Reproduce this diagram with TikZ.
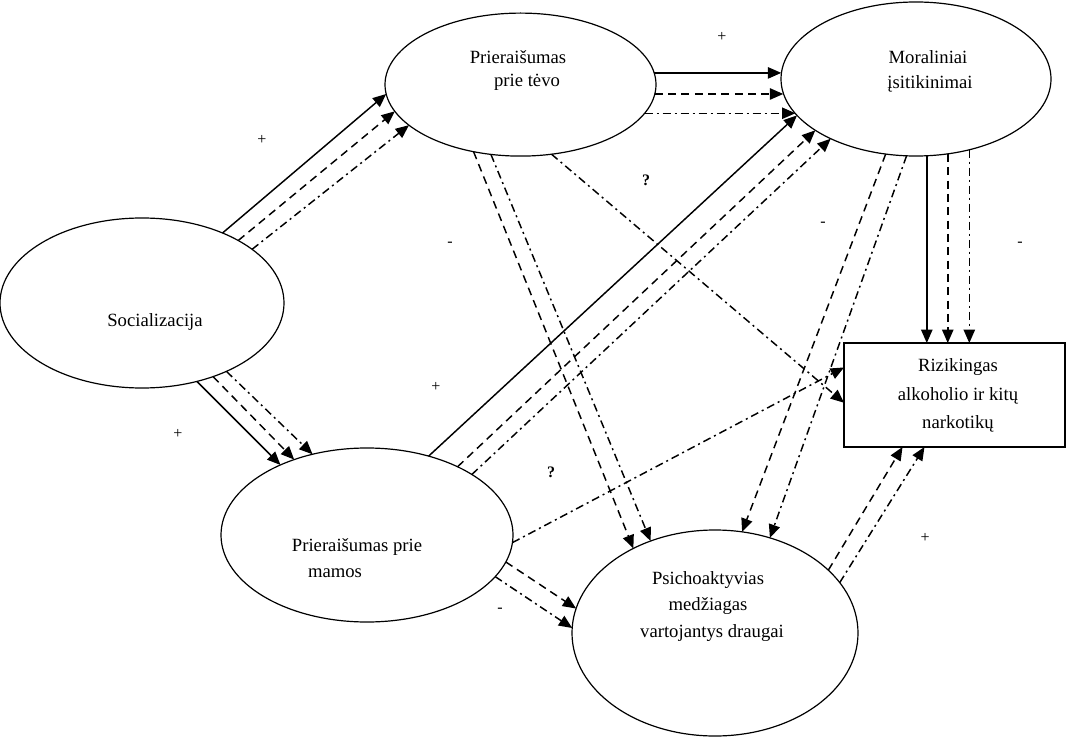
\documentclass[tikz,border=0pt]{standalone}
\usepackage{fontspec}
\setmainfont{Liberation Serif}
\usetikzlibrary{arrows.meta,shapes.geometric}
\begin{document}
\begin{tikzpicture}[x=0.75pt,y=-0.75pt,
  ell/.style={draw, ellipse, line width=0.9pt, inner sep=0pt, outer sep=0pt},
  box/.style={draw, rectangle, line width=0.9pt, inner sep=0pt, outer sep=0pt},
  lbl/.style={font=\fontsize{14}{17}\selectfont, inner sep=0pt},
  sgn/.style={font=\fontsize{12}{14}\selectfont, inner sep=0pt},
  qm/.style={font=\fontsize{12}{14}\selectfont\bfseries, inner sep=0pt},
  arr/.style={line width=1.1pt, -{Triangle[length=10pt,width=8.5pt]}},
  sol/.style={arr},
  dsh/.style={arr, dash pattern=on 6pt off 4pt},
  dd/.style={arr, dash pattern=on 6pt off 3pt on 1.5pt off 3pt}]
\useasboundingbox (0,0) rectangle (1067,738);
\fill[white] (0,0) rectangle (1067,738);

% shapes
\node[ell, minimum width=213pt, minimum height=127.5pt] (soc) at (142,303) {};
\node[ell, minimum width=203.25pt, minimum height=107.25pt] (tevo) at (520.5,84.6) {};
\node[ell, minimum width=202.5pt, minimum height=115.5pt] (mor) at (916,79) {};
\node[ell, minimum width=219pt, minimum height=130.5pt] (mamos) at (367,535) {};
\node[ell, minimum width=214.5pt, minimum height=154.5pt] (psi) at (715,633) {};
\node[box, minimum width=165.75pt, minimum height=78pt] (riz) at (954.5,395) {};

% texts
\node[lbl] (t1a) at (518,57) {Prieraišumas};
\node[lbl] (t1b) at (527,82) {prie tėvo};
\node[lbl] (t2a) at (928,57) {Moraliniai};
\node[lbl] (t2b) at (930,84) {įsitikinimai};
\node[lbl] (t3) at (155,322) {Socializacija};
\node[lbl] (t4a) at (357,547) {Prieraišumas prie};
\node[lbl] (t4b) at (335,573) {mamos};
\node[lbl] (t5a) at (708,580) {Psichoaktyvias};
\node[lbl] (t5b) at (708,606) {medžiagas};
\node[lbl] (t5c) at (712,633) {vartojantys draugai};
\node[lbl] (t6a) at (958,367) {Rizikingas};
\node[lbl] (t6b) at (958,396) {alkoholio ir kitų};
\node[lbl] (t6c) at (958,424) {narkotikų};

% signs
\node[sgn] (s1) at (262,140) {+};
\node[sgn] (s2) at (722,37) {+};
\node[qm] (s3) at (646,180) {?};
\node[sgn] (s4) at (450,244) {-};
\node[sgn] (s5) at (823,224) {-};
\node[sgn] (s6) at (1020,244) {-};
\node[sgn] (s7) at (436,387) {+};
\node[sgn] (s8) at (178,434) {+};
\node[qm] (s9) at (551,472) {?};
\node[sgn] (s10) at (925,538) {+};
\node[sgn] (s11) at (500,610) {-};

% Socializacija -> tevo
\draw[sol] (soc.41) -- (tevo.184);
\draw[dsh] (soc.33) -- (tevo.192);
\draw[dd] (soc.26) -- (tevo.200);
% Socializacija -> mamos
\draw[sol] (soc.-55) -- (mamos.141);
\draw[dsh] (soc.-46) -- (mamos.134);
\draw[dd] (soc.-39) -- (mamos.124);
% tevo -> Moraliniai
\draw[sol] (tevo.5) -- (tevo.5 -| mor.178);
\draw[dsh] (tevo.-4) -- (tevo.-4 -| mor.186);
\draw[dd] (tevo.-13) -- (tevo.-13 -| mor.196);
% tevo -> psi
\draw[dsh] (tevo.235) -- (psi.134);
\draw[dd] (tevo.247) -- (psi.125);
% tevo -> riz
\draw[dd] (tevo.-66) -- (riz.184);
% mamos -> Moraliniai
\draw[sol] (mamos.52) -- (mor.197);
\draw[dsh] (mamos.37) -- (mor.207);
\draw[dd] (mamos.30) -- (mor.215);
% mamos -> riz
\draw[dd] (mamos.-3) -- (riz.166);
% mamos -> psi
\draw[dsh] (mamos.-11) -- (psi.170);
\draw[dd] (mamos.-18) -- (psi.178);
% Moraliniai -> psi
\draw[dsh] (mor.248) -- (psi.75);
\draw[dd] (mor.263) -- (psi.60);
% Moraliniai -> riz
\draw[sol] (mor.-82) -- (mor.-82 |- riz.north);
\draw[dsh] (mor.-67) -- (mor.-67 |- riz.north);
\draw[dd] (mor.-53) -- (mor.-53 |- riz.north);
% psi -> riz
\draw[dsh] (psi.29) -- (riz.225);
\draw[dd] (psi.22) -- (riz.240);
\end{tikzpicture}
\end{document}
